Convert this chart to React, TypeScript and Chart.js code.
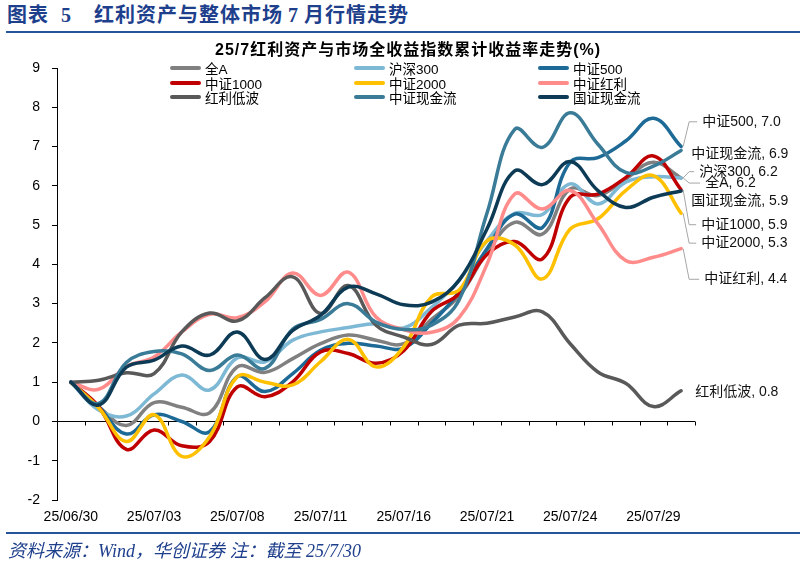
import { useEffect, useRef } from 'react';
import { Chart, registerables, type ChartConfiguration } from 'chart.js';

Chart.register(...registerables);

// trading days, 2025-06-30 .. 2025-07-30
const DATES = [
  '25/06/30', '25/07/01', '25/07/02', '25/07/03', '25/07/04', '25/07/07', '25/07/08',
  '25/07/09', '25/07/10', '25/07/11', '25/07/14', '25/07/15', '25/07/16', '25/07/17',
  '25/07/18', '25/07/21', '25/07/22', '25/07/23', '25/07/24', '25/07/25', '25/07/28',
  '25/07/29', '25/07/30',
];

const SERIES = ['全A', '沪深300', '中证500', '中证1000', '中证2000', '中证红利', '红利低波', '中证现金流', '国证现金流'];

// cumulative return, %
const QUAN_A = [1.0, 0.38, -0.1, 0.48, 0.36, 0.22, 1.39, 1.25, 1.6, 1.98, 2.2, 2.07, 1.98, 2.6, 3.2, 4.3, 5.07, 4.77, 5.92, 5.75, 6.17, 6.6, 6.2];
const HS300 = [1.0, 0.29, 0.14, 0.7, 1.18, 0.8, 1.62, 1.52, 2.07, 2.28, 2.39, 2.49, 2.38, 2.9, 3.6, 4.6, 5.3, 5.27, 6.05, 5.54, 6.09, 6.23, 6.2];
const ZZ500 = [1.0, 0.38, -0.32, 0.17, 0.0, -0.26, 1.14, 0.76, 1.22, 1.81, 1.99, 1.92, 1.87, 2.5, 3.3, 4.4, 5.28, 4.94, 6.6, 6.72, 7.14, 7.72, 7.0];
const ZZ1000 = [1.0, 0.38, -0.71, -0.22, -0.62, -0.51, 0.88, 0.63, 1.01, 1.77, 1.73, 1.48, 1.8, 2.8, 3.25, 4.25, 4.58, 4.14, 5.71, 5.79, 6.21, 6.76, 5.9];
const ZZ2000 = [1.0, 0.35, -0.51, 0.17, -0.89, -0.39, 1.14, 1.0, 0.93, 1.52, 2.09, 1.39, 1.9, 3.17, 3.35, 4.6, 4.5, 3.63, 4.9, 5.16, 5.88, 6.26, 5.3];
const ZZHL = [1.0, 0.82, 1.4, 1.64, 2.28, 2.73, 2.64, 3.05, 3.78, 3.21, 3.8, 2.66, 2.34, 2.27, 2.65, 4.0, 5.79, 5.41, 5.88, 5.03, 4.1, 4.18, 4.4];
const HLDB = [1.0, 1.05, 1.24, 1.22, 2.28, 2.76, 2.56, 3.15, 3.68, 2.75, 3.46, 2.45, 2.15, 1.96, 2.45, 2.5, 2.66, 2.79, 1.98, 1.26, 0.97, 0.38, 0.78];
const ZZXJL = [1.0, 0.46, 1.5, 1.78, 1.72, 1.3, 1.69, 1.35, 2.35, 2.6, 3.0, 2.53, 2.34, 2.45, 3.1, 5.3, 7.44, 6.98, 7.86, 7.06, 6.34, 6.5, 6.9];
const GZXJL = [1.0, 0.42, 1.38, 1.56, 1.92, 1.69, 2.28, 1.58, 2.32, 2.7, 3.42, 3.25, 2.97, 3.04, 3.6, 4.9, 6.38, 6.03, 6.62, 5.88, 5.45, 5.71, 5.87];

const VALUES = [QUAN_A, HS300, ZZ500, ZZ1000, ZZ2000, ZZHL, HLDB, ZZXJL, GZXJL];

const COLORS = ['#808080', '#7DB9D5', '#1E6A96', '#C00000', '#FFC000', '#FF8B8B', '#595959', '#3A7B97', '#0D3B56'];

// end-of-line labels: y given in value units, dx in px from last point
const END_LABELS = [
  { at: 6.07, dx: 24, leader: true },
  { at: 6.36, dx: 18, leader: true },
  { at: 7.63, dx: 21, leader: true },
  { at: 5.01, dx: 20, leader: true },
  { at: 4.54, dx: 20, leader: true },
  { at: 3.62, dx: 23, leader: true },
  { at: 0.75, dx: 14, leader: false },
  { at: 6.81, dx: 10, leader: false },
  { at: 5.62, dx: 10, leader: false },
];

const SANS = '"Liberation Sans", "Noto Sans CJK SC", sans-serif';
const SERIF = '"Liberation Serif", "Noto Sans CJK SC", serif';
const BLUE = '#1E3F8C';

// x axis drawn across y = 0 with small ticks between categories
const zeroAxisPlugin = {
  id: 'zeroAxis',
  beforeDatasetsDraw(chart: Chart) {
    const { ctx, chartArea, scales } = chart;
    const x = scales.x;
    const y0 = Math.round(scales.y.getPixelForValue(0)) + 0.5;
    const half = (x.getPixelForValue(1) - x.getPixelForValue(0)) / 2;
    ctx.save();
    ctx.strokeStyle = '#000';
    ctx.lineWidth = 1;
    ctx.beginPath();
    ctx.moveTo(chartArea.left, y0);
    ctx.lineTo(chartArea.right, y0);
    for (let i = 1; i <= DATES.length; i++) {
      const px = Math.round(x.getPixelForValue(i) - half) + 0.5;
      ctx.moveTo(px, y0);
      ctx.lineTo(px, y0 + 4);
    }
    ctx.stroke();
    ctx.restore();
  },
};

const endLabelPlugin = {
  id: 'endLabels',
  afterDatasetsDraw(chart: Chart) {
    const { ctx, scales } = chart;
    ctx.save();
    ctx.font = `14px ${SANS}`;
    ctx.textBaseline = 'middle';
    ctx.textAlign = 'left';
    chart.data.datasets.forEach((ds, i) => {
      const meta = chart.getDatasetMeta(i);
      const pt = meta.data[meta.data.length - 1];
      const lay = END_LABELS[i];
      const ly = scales.y.getPixelForValue(lay.at);
      const tx = pt.x + lay.dx;
      if (lay.leader) {
        ctx.strokeStyle = '#A6A6A6';
        ctx.lineWidth = 1;
        ctx.beginPath();
        ctx.moveTo(pt.x + 2, pt.y);
        ctx.lineTo(pt.x + 8, ly);
        ctx.lineTo(tx - 5, ly);
        ctx.stroke();
      }
      const last = ds.data[ds.data.length - 1] as number;
      ctx.fillStyle = '#111';
      ctx.fillText(`${ds.label}, ${last.toFixed(1)}`, tx, ly);
    });
    ctx.restore();
  },
};

export default function App() {
  const ref = useRef<HTMLCanvasElement>(null);
  const chart = useRef<Chart | null>(null);

  useEffect(() => {
    document.body.style.margin = '0';
    if (!ref.current) return;
    chart.current?.destroy();
    const n = SERIES.length;
    const config: ChartConfiguration<'line'> = {
      type: 'line',
      data: {
        labels: DATES,
        datasets: SERIES.map((name, i) => ({
          label: name,
          data: VALUES[i],
          borderColor: COLORS[i],
          backgroundColor: COLORS[i],
          order: n - i,
        })),
      },
      options: {
        responsive: false,
        animation: false,
        layout: { padding: { top: 68, right: 108, bottom: 0, left: 0 } },
        elements: {
          point: { radius: 0, hoverRadius: 0 },
          line: { tension: 0.4, borderWidth: 3.5, borderCapStyle: 'round', borderJoinStyle: 'round' },
        },
        plugins: {
          legend: { display: false },
          tooltip: { enabled: false },
        },
        scales: {
          x: {
            type: 'category',
            offset: true,
            grid: { display: false, drawTicks: false },
            border: { display: false },
            ticks: {
              autoSkip: false,
              maxRotation: 0,
              padding: 9,
              color: '#000',
              font: { family: SANS, size: 14 },
              callback: (_v, i) => (i % 3 === 0 ? DATES[i] : ''),
            },
            afterFit: (s) => { s.height = 64; },
          },
          y: {
            min: -2,
            max: 9,
            ticks: { stepSize: 1, padding: 12, color: '#000', font: { family: SANS, size: 14 } },
            grid: { drawOnChartArea: false, drawTicks: true, tickLength: 5, color: '#000' },
            border: { display: true, color: '#000', width: 1 },
            afterFit: (s) => { s.width = 57; },
          },
        },
      },
      plugins: [zeroAxisPlugin, endLabelPlugin],
    };
    chart.current = new Chart(ref.current.getContext('2d')!, config);
    return () => { chart.current?.destroy(); };
  }, []);

  return (
    <div style={{ position: 'relative', width: 803, height: 564, background: '#fff', overflow: 'hidden' }}>
      <div style={{ position: 'absolute', left: 7, top: 2, height: 26, lineHeight: '26px', whiteSpace: 'nowrap',
        fontFamily: SERIF, fontWeight: 700, fontSize: 20, letterSpacing: 1, color: BLUE }}>
        <span>图表</span>
        <span style={{ marginLeft: 12 }}>5</span>
        <span style={{ marginLeft: 22 }}>红利资产与整体市场</span>
        <span style={{ marginLeft: 5 }}>7</span>
        <span style={{ marginLeft: 5 }}>月行情走势</span>
      </div>
      <div style={{ position: 'absolute', left: 6, top: 31, width: 794, height: 2, background: '#25549A' }} />

      <canvas ref={ref} width={803} height={564} style={{ position: 'absolute', left: 0, top: 0 }} />

      <div style={{ position: 'absolute', left: 408, top: 40, transform: 'translateX(-50%)', whiteSpace: 'nowrap',
        fontFamily: SANS, fontWeight: 700, fontSize: 16, letterSpacing: 1, lineHeight: '20px', color: '#000' }}>
        25/7红利资产与市场全收益指数累计收益率走势(%)
      </div>

      <div style={{ position: 'absolute', left: 170, top: 61, display: 'grid',
        gridTemplateColumns: '184px 184px 184px', fontFamily: SANS, fontSize: 13.5, color: '#000' }}>
        {SERIES.map((name, i) => (
          <div key={name} style={{ display: 'flex', alignItems: 'center', height: 14.5, whiteSpace: 'nowrap' }}>
            <span style={{ width: 31, height: 4, borderRadius: 2, background: COLORS[i], marginRight: 4, flexShrink: 0 }} />
            <span>{name}</span>
          </div>
        ))}
      </div>

      <div style={{ position: 'absolute', left: 6, top: 532, width: 794, height: 2, background: '#25549A' }} />
      <div style={{ position: 'absolute', left: 8, top: 539, whiteSpace: 'nowrap', fontFamily: SERIF,
        fontStyle: 'italic', fontSize: 18, lineHeight: '24px', color: BLUE }}>
        资料来源：Wind，华创证券 注：截至 25/7/30
      </div>
    </div>
  );
}
